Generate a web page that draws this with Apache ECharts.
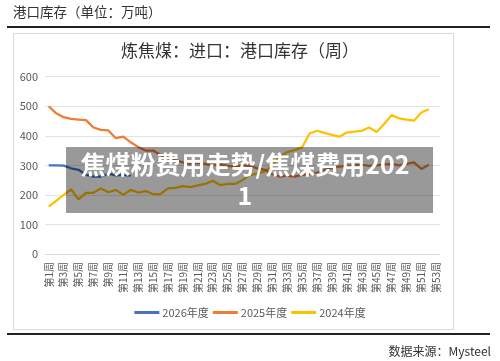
<!DOCTYPE html>
<html>
<head>
<meta charset="utf-8">
<script src="https://cdn.jsdelivr.net/npm/echarts@6/dist/echarts.min.js"></script>
<style>
html,body{margin:0;padding:0;background:#fff;}
#c{width:500px;height:361px;}
</style>
</head>
<body>
<div id="c"></div>
<script>
const weeks = ['第1周','第2周','第3周','第4周','第5周','第6周','第7周','第8周','第9周','第10周',
'第11周','第12周','第13周','第14周','第15周','第16周','第17周','第18周','第19周','第20周',
'第21周','第22周','第23周','第24周','第25周','第26周','第27周','第28周','第29周','第30周',
'第31周','第32周','第33周','第34周','第35周','第36周','第37周','第38周','第39周','第40周',
'第41周','第42周','第43周','第44周','第45周','第46周','第47周','第48周','第49周','第50周',
'第51周','第52周','第53周'];
const seriesNames = ['2026年度','2025年度','2024年度'];
const y2026 = [300,300,299,290,285,268,262,262,272,266,268,265];
const y2025 = [500,476,463,457,455,453,428,420,418,392,397,378,362,350,350,335,325,318,310,305,
308,305,300,303,298,296,300,298,290,285,270,262,265,262,268,270,275,285,292,296,
298,300,302,298,300,303,305,300,305,310,288,302];
const y2024 = [160,180,200,219,185,207,207,222,209,217,200,217,208,213,203,203,222,224,230,226,
232,237,248,233,237,237,250,267,272,280,300,329,345,352,361,408,417,410,403,397,
411,414,417,428,413,440,470,459,455,451,479,490];
const yTicks = {min:0, max:600, interval:100};
const titleText = '炼焦煤：进口：港口库存（周）';
const headText = '港口库存（单位：万吨）';
const sourceText = '数据来源：Mysteel';
const wmText = '焦煤粉费用走势/焦煤费用202\n1';

const colors = ['#4472C4','#ED7D31','#FFC000'];
const chart = echarts.init(document.getElementById('c'), null, {renderer:'canvas'});
const font = '"Noto Sans CJK SC", "Noto Sans", sans-serif';
chart.setOption({
  animation:false,
  color: colors,
  textStyle:{fontFamily:font},
  grid:{left:45, right:60, top:76.7, bottom:107, containLabel:false},
  legend:{
    data: seriesNames,
    bottom: 38,
    left: 'center',
    icon: 'rect',
    itemWidth: 25,
    itemHeight: 3,
    itemGap: 4,
    textStyle:{fontSize:11, color:'#595959', fontFamily:font, padding:[0,0,0,-2]}
  },
  xAxis:{
    type:'category',
    data: weeks,
    boundaryGap:true,
    axisLine:{show:true, lineStyle:{color:'#d9d9d9'}},
    axisTick:{show:false},
    axisLabel:{interval:1, rotate:90, fontSize:10, color:'#595959', margin:8, fontFamily:font}
  },
  yAxis:{
    type:'value',
    min: yTicks.min, max: yTicks.max, interval: yTicks.interval,
    axisLine:{show:false},
    axisTick:{show:false},
    splitLine:{lineStyle:{color:'#e3e3e3'}},
    axisLabel:{fontSize:11, color:'#595959', margin:7, fontFamily:font}
  },
  series:[
    {name:seriesNames[0], type:'line', data:y2026, symbol:'none', lineStyle:{width:2.25}, z:3},
    {name:seriesNames[1], type:'line', data:y2025, symbol:'none', lineStyle:{width:2.25}, z:2},
    {name:seriesNames[2], type:'line', data:y2024, symbol:'none', lineStyle:{width:2.25}, z:1}
  ],
  graphic:[
    {type:'text', left:13, top:5, z:10, style:{text:headText, font:'13.5px '+font, fill:'#333'}},
    {type:'line', z:10, shape:{x1:7,y1:27,x2:490,y2:27}, style:{stroke:'#222', lineWidth:2}},
    {type:'rect', z:-1, shape:{x:13.5,y:33.5,width:440,height:296}, style:{fill:'#fff', stroke:'#d9d9d9', lineWidth:1}},
    {type:'text', z:10, x:240, y:51, style:{text:titleText, font:'17px '+font, fill:'#333', align:'center', verticalAlign:'middle'}},
    {type:'line', z:10, shape:{x1:7,y1:334,x2:490,y2:334}, style:{stroke:'#222', lineWidth:2}},
    {type:'text', z:10, x:491, y:351, style:{text:sourceText, font:'12px '+font, fill:'#333', align:'right', verticalAlign:'middle'}},
    {type:'rect', z:20, shape:{x:66,y:147,width:367,height:66}, style:{fill:'rgba(0,0,0,0.4)'}},
    {type:'text', z:21, x:245, y:180, style:{text:wmText, font:'bold 25px '+font, fill:'#fff', align:'center', verticalAlign:'middle', lineHeight:31}}
  ]
});
</script>
</body>
</html>
